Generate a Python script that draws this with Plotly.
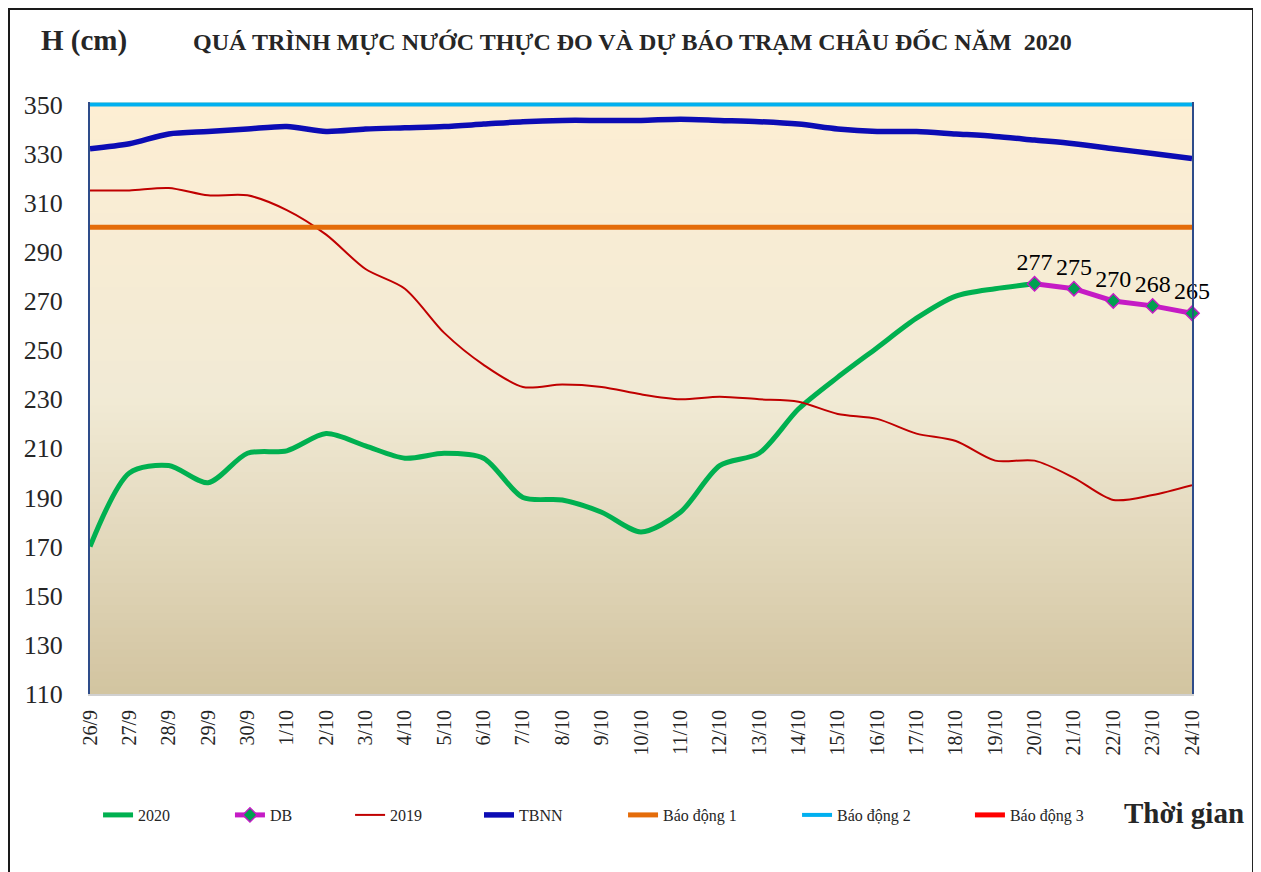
import plotly.graph_objects as go

dates = ["26/9", "27/9", "28/9", "29/9", "30/9", "1/10", "2/10", "3/10", "4/10", "5/10",
         "6/10", "7/10", "8/10", "9/10", "10/10", "11/10", "12/10", "13/10", "14/10", "15/10",
         "16/10", "17/10", "18/10", "19/10", "20/10", "21/10", "22/10", "23/10", "24/10"]

h2020 = [170, 200, 203, 196, 208, 209, 216, 211, 206, 208,
         206, 190, 189, 184, 176, 184, 203, 208, 226, 239,
         251, 263, 272, 275, 277]

db_dates = ["20/10", "21/10", "22/10", "23/10", "24/10"]
db_values = [277, 275, 270, 268, 265]

h2019 = [315, 315, 316, 313, 313, 307, 297, 283, 275, 257,
         244, 235, 236, 235, 232, 230, 231, 230, 229, 224,
         222, 216, 213, 205, 205, 198, 189, 191, 195]

tbnn = [332, 334, 338, 339, 340, 341, 339, 340, 340.5, 341,
        342, 343, 343.5, 343.5, 343.5, 344, 343.5, 343, 342, 340,
        339, 339, 338, 337, 335.5, 334, 332, 330, 328]

bd1 = 300
bd2 = 350
bd3 = 400

SERIF = "Liberation Serif, Times New Roman, serif"
TXT = "#262626"

fig = go.Figure()

# background gradient bands (styling only)
def hex2rgb(h):
    h = h.lstrip("#")
    return tuple(int(h[i:i + 2], 16) for i in (0, 2, 4))

stops = [(0.0, hex2rgb("#D2C4A0")), (0.5, hex2rgb("#F1EAD5")), (1.0, hex2rgb("#FDEED3"))]

def color_at(t):
    for (t0, c0), (t1, c1) in zip(stops[:-1], stops[1:]):
        if t0 <= t <= t1:
            f = (t - t0) / (t1 - t0)
            c = [round(c0[i] + (c1[i] - c0[i]) * f) for i in range(3)]
            return "rgb(%d,%d,%d)" % tuple(c)
    return "rgb(%d,%d,%d)" % stops[-1][1]

n_bands = 80
shapes = []
for i in range(n_bands):
    y0 = i / n_bands
    y1 = (i + 1) / n_bands + 0.002
    shapes.append(dict(type="rect", xref="x domain", yref="y domain", x0=0, x1=1,
                       y0=y0, y1=min(y1, 1), fillcolor=color_at((y0 + y1) / 2),
                       line=dict(width=0), layer="below"))

# outer frame
shapes.append(dict(type="rect", xref="paper", yref="paper",
                   x0=-0.0735, x1=1.0554, y0=-0.31, y1=1.157,
                   line=dict(color="#1a1a1a", width=2), fillcolor="rgba(0,0,0,0)", layer="above"))

fig.add_trace(go.Scatter(x=dates[:len(h2020)], y=h2020, name="2020", mode="lines",
                         legend="legend",
                         line=dict(color="#00B050", width=5, shape="spline", smoothing=0.8)))
fig.add_trace(go.Scatter(x=db_dates, y=db_values, name="DB", mode="lines+markers+text",
                         legend="legend2",
                         line=dict(color="#C51BC5", width=5),
                         marker=dict(symbol="diamond", size=11, color="#00A050",
                                     line=dict(color="#C51BC5", width=1.5)),
                         text=[str(v) for v in db_values], textposition="top center",
                         textfont=dict(family=SERIF, size=24, color="#000000"),
                         cliponaxis=False))
fig.add_trace(go.Scatter(x=dates, y=h2019, name="2019", mode="lines",
                         legend="legend3",
                         line=dict(color="#C00000", width=2, shape="spline", smoothing=0.8)))
fig.add_trace(go.Scatter(x=dates, y=tbnn, name="TBNN", mode="lines",
                         legend="legend4",
                         line=dict(color="#0C0CB4", width=5.5, shape="spline", smoothing=0.8)))
fig.add_trace(go.Scatter(x=dates, y=[bd1] * len(dates), name="Báo động 1", mode="lines",
                         legend="legend5",
                         line=dict(color="#E46C0A", width=5)))
fig.add_trace(go.Scatter(x=dates, y=[bd2] * len(dates), name="Báo động 2", mode="lines",
                         legend="legend6",
                         line=dict(color="#00B0F0", width=4)))
fig.add_trace(go.Scatter(x=dates, y=[bd3] * len(dates), name="Báo động 3", mode="lines",
                         legend="legend7",
                         line=dict(color="#FF0000", width=5)))

legend_x = [0.0073, 0.127, 0.236, 0.353, 0.4837, 0.6416, 0.7985]
legend_common = dict(orientation="h", xanchor="left", y=-0.2044, yanchor="middle",
                     font=dict(family=SERIF, size=16, color=TXT),
                     bgcolor="rgba(0,0,0,0)", borderwidth=0)
legends = {}
for i, lx in enumerate(legend_x):
    key = "legend" if i == 0 else "legend%d" % (i + 1)
    legends[key] = dict(x=lx, **legend_common)

fig.update_layout(
    width=1253, height=864,
    margin=dict(l=82, r=69, t=94, b=178),
    paper_bgcolor="white", plot_bgcolor="rgba(0,0,0,0)",
    font=dict(family=SERIF, color=TXT),
    shapes=shapes,
    showlegend=True,
    annotations=[
        dict(text="<b>H (cm)</b>", xref="paper", yref="paper", x=-0.0054, y=1.1047,
             xanchor="center", yanchor="middle", showarrow=False,
             font=dict(family=SERIF, size=29, color=TXT)),
        dict(text="<b>QUÁ TRÌNH MỰC NƯỚC THỰC ĐO VÀ DỰ BÁO TRẠM CHÂU ĐỐC NĂM  2020</b>",
             xref="paper", yref="paper", x=0.492, y=1.1014,
             xanchor="center", yanchor="middle", showarrow=False,
             font=dict(family=SERIF, size=24, color=TXT)),
        dict(text="<b>Thời gian</b>", xref="paper", yref="paper", x=0.9927, y=-0.201,
             xanchor="center", yanchor="middle", showarrow=False,
             font=dict(family=SERIF, size=29, color=TXT)),
    ],
    **legends,
)

fig.update_xaxes(type="category", categoryorder="array", categoryarray=dates,
                 range=[0, len(dates) - 1], tickangle=-90,
                 tickfont=dict(family=SERIF, size=20, color=TXT),
                 showgrid=False, zeroline=False, showline=True, linecolor="#D0D0D0", linewidth=2,
                 ticks="", ticklabelstandoff=6)
fig.update_yaxes(range=[110, 351], tickvals=list(range(110, 351, 20)),
                 tickfont=dict(family=SERIF, size=26, color=TXT),
                 showgrid=False, zeroline=False, showline=True, linecolor="#2E4C8A", linewidth=2,
                 mirror=True, ticks="", ticklabelstandoff=20)

fig.write_html("out.html")
